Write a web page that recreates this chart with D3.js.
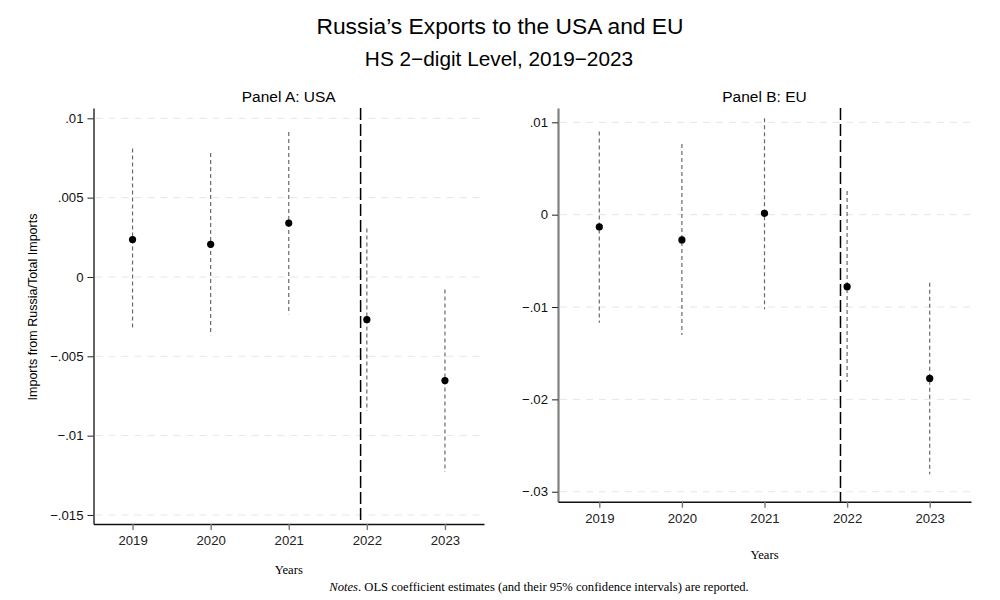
<!DOCTYPE html>
<html><head><meta charset="utf-8">
<script src="https://cdn.jsdelivr.net/npm/d3@7"></script>
<style>body{margin:0;background:#fff}svg{display:block}</style>
</head><body>
<script>
const years = [2019, 2020, 2021, 2022, 2023];
const usaEst = [0.00236, 0.00206, 0.0034, -0.00269, -0.00653];
const usaLo  = [-0.00336, -0.00368, -0.00235, -0.00845, -0.0123];
const usaHi  = [0.0081, 0.00782, 0.00914, 0.00305, -0.00079];
const euEst = [-0.00133, -0.00274, 0.00015, -0.0078, -0.01773];
const euLo  = [-0.0117, -0.01303, -0.01025, -0.0181, -0.0281];
const euHi  = [0.009, 0.00766, 0.01044, 0.00257, -0.00737];
const usaTicks = [0.01, 0.005, 0, -0.005, -0.01, -0.015];
const usaTickLabels = [".01", ".005", "0", "\u2212.005", "\u2212.01", "\u2212.015"];
const euTicks = [0.01, 0, -0.01, -0.02, -0.03];
const euTickLabels = [".01", "0", "\u2212.01", "\u2212.02", "\u2212.03"];
const eventLine = 2021.92;

const W = 1000, H = 600;
const svg = d3.select("body").append("svg").attr("width", W).attr("height", H);
const sans = "'Liberation Sans', Arial, Helvetica, sans-serif";
const serif = "'Liberation Serif', 'Times New Roman', serif";

svg.append("text").attr("x", 500).attr("y", 34).attr("text-anchor", "middle")
  .attr("font-family", sans).attr("font-size", 22.8).text("Russia\u2019s Exports to the USA and EU");
svg.append("text").attr("x", 499).attr("y", 66).attr("text-anchor", "middle")
  .attr("font-family", sans).attr("font-size", 20.8).text("HS 2\u2212digit Level, 2019\u22122023");

function panel(cfg) {
  const g = svg.append("g");
  const x = d3.scaleLinear().domain([2018.5, 2023.5]).range([cfg.x0, cfg.x1]);
  const y = d3.scaleLinear().domain(cfg.ydom).range([cfg.yb, cfg.yt]);
  g.selectAll(".grid").data(cfg.ticks).join("line")
    .attr("x1", cfg.x0 + 2).attr("x2", cfg.x1).attr("y1", d => y(d)).attr("y2", d => y(d))
    .attr("stroke", "#e6e6e6").attr("stroke-width", 1).attr("stroke-dasharray", "7,6");
  g.append("text").attr("x", (cfg.x0 + cfg.x1) / 2).attr("y", 102).attr("text-anchor", "middle")
    .attr("font-family", sans).attr("font-size", 15.5).text(cfg.title);
  const ya = d3.axisLeft(y).tickValues(cfg.ticks).tickSize(6).tickSizeOuter(0)
    .tickFormat((d, i) => cfg.tickLabels[i]);
  const yg = g.append("g").attr("transform", `translate(${cfg.x0},0)`).call(ya);
  yg.select(".domain").attr("stroke", cfg.yAxisColor).attr("stroke-width", cfg.yAxisWidth);
  yg.selectAll(".tick line").attr("stroke", "#222");
  yg.selectAll(".tick text").attr("font-family", sans).attr("font-size", 13.2).attr("fill", "#111").attr("dx", "-1");
  const xa = d3.axisBottom(x).tickValues(years).tickFormat(d3.format("d")).tickSize(6).tickSizeOuter(0);
  const xg = g.append("g").attr("transform", `translate(0,${cfg.yb})`).call(xa);
  xg.select(".domain").attr("stroke", "#111").attr("stroke-width", 1.4);
  xg.selectAll(".tick line").attr("stroke", "#777").attr("stroke-width", 1.4);
  xg.selectAll(".tick text").attr("font-family", sans).attr("font-size", 13.2).attr("fill", "#222").attr("dy", "0.9em");
  g.append("line").attr("x1", x(eventLine)).attr("x2", x(eventLine)).attr("y1", cfg.yt).attr("y2", cfg.yb)
    .attr("stroke", "#000").attr("stroke-width", 1.5).attr("stroke-dasharray", "12,4");
  g.selectAll(".ci").data(years).join("line")
    .attr("x1", d => x(d)).attr("x2", d => x(d))
    .attr("y1", (d, i) => y(cfg.hi[i])).attr("y2", (d, i) => y(cfg.lo[i]))
    .attr("stroke", "#6a6a6a").attr("stroke-width", 1.2).attr("stroke-dasharray", "4,3");
  g.selectAll(".pt").data(years).join("circle")
    .attr("cx", d => x(d)).attr("cy", (d, i) => y(cfg.est[i])).attr("r", 3.6).attr("fill", "#000");
  g.append("text").attr("x", (cfg.x0 + cfg.x1) / 2).attr("y", cfg.xTitleY).attr("text-anchor", "middle")
    .attr("font-family", serif).attr("font-size", 12.6).text("Years");
}

panel({ x0: 93.5, x1: 484, yt: 108, yb: 524, ydom: [-0.01557, 0.01065],
  ticks: usaTicks, tickLabels: usaTickLabels, est: usaEst, lo: usaLo, hi: usaHi,
  title: "Panel A: USA", xTitleY: 574, yAxisColor: "#222", yAxisWidth: 1.4 });
panel({ x0: 558, x1: 971, yt: 108, yb: 501.7, ydom: [-0.03108, 0.01155],
  ticks: euTicks, tickLabels: euTickLabels, est: euEst, lo: euLo, hi: euHi,
  title: "Panel B: EU", xTitleY: 559, yAxisColor: "#808080", yAxisWidth: 2.2 });

svg.append("text").attr("transform", "translate(37,307) rotate(-90)").attr("text-anchor", "middle")
  .attr("font-family", sans).attr("font-size", 12.5).text("Imports from Russia/Total Imports");

const note = svg.append("text").attr("x", 539).attr("y", 591).attr("text-anchor", "middle")
  .attr("font-family", serif).attr("font-size", 12.6);
note.append("tspan").attr("font-style", "italic").text("Notes");
note.append("tspan").text(". OLS coefficient estimates (and their 95% confidence intervals) are reported.");
</script>
</body></html>
